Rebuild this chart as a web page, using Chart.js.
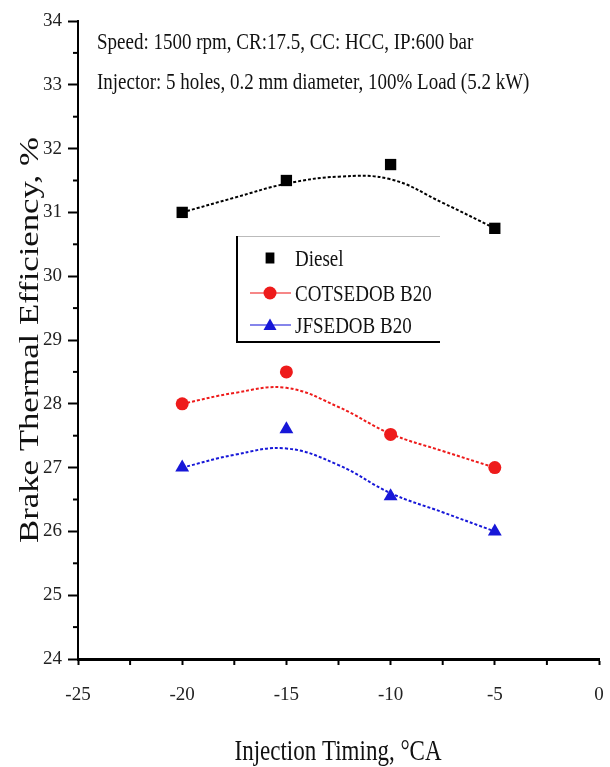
<!DOCTYPE html>
<html>
<head>
<meta charset="utf-8">
<script src="https://cdn.jsdelivr.net/npm/chart.js@4.4.0/dist/chart.umd.min.js"></script>
<style>
html, body { margin: 0; padding: 0; background: #fff; }
#wrap { width: 610px; height: 767px; }
</style>
</head>
<body>
<div id="wrap"><canvas id="bteChart" width="610" height="767"></canvas></div>
<script>
// measured points
const timings = [-20, -15, -10, -5];
const dieselBTE = [31.0, 31.5, 31.75, 30.75];
const cotsedobBTE = [28.0, 28.5, 27.52, 27.0];
const jfsedobBTE = [27.0, 27.6, 26.55, 26.0];

// dotted trend curves
const fitTimings = [-20, -17.5, -15, -12.5, -10, -7.5, -5];
const dieselFit = [31.0, 31.23, 31.45, 31.56, 31.52, 31.15, 30.75];
const cotsedobFit = [28.0, 28.17, 28.25, 27.95, 27.53, 27.26, 27.0];
const jfsedobFit = [27.0, 27.2, 27.3, 27.04, 26.6, 26.3, 26.0];

const xTicks = [-25, -20, -15, -10, -5, 0];
const yTicks = [24, 25, 26, 27, 28, 29, 30, 31, 32, 33, 34];

const seriesNames = ['Diesel', 'COTSEDOB B20', 'JFSEDOB B20'];
const infoLines = [
    'Speed: 1500 rpm, CR:17.5, CC: HCC, IP:600 bar',
    'Injector: 5 holes, 0.2 mm diameter, 100% Load (5.2 kW)'
];

const RED = '#ee1b1b';
const BLUE = '#1717d8';
const SERIF = '"Liberation Serif", "Times New Roman", serif';

function pairs(xs, ys) {
    return xs.map((x, i) => ({ x: x, y: ys[i] }));
}

// text a bit taller than wide, like the scanned figure
function stretchedText(ctx, text, x, y, px, stretch, align, angle) {
    ctx.save();
    ctx.translate(x, y);
    if (angle) ctx.rotate(angle);
    if (angle) ctx.scale(stretch, 1); else ctx.scale(1, stretch);
    ctx.font = px + 'px ' + SERIF;
    ctx.fillStyle = '#111';
    ctx.textAlign = align;
    ctx.textBaseline = 'alphabetic';
    ctx.fillText(text, 0, 0);
    ctx.restore();
}

function drawMarker(ctx, style, color, x, y, r) {
    ctx.save();
    ctx.fillStyle = color;
    ctx.beginPath();
    if (style === 'rect') {
        ctx.rect(x - r * 0.8, y - r, r * 1.6, r * 2);
    } else if (style === 'triangle') {
        ctx.moveTo(x, y - r);
        ctx.lineTo(x + r, y + r * 0.75);
        ctx.lineTo(x - r, y + r * 0.75);
        ctx.closePath();
    } else {
        ctx.arc(x, y, r, 0, Math.PI * 2);
    }
    ctx.fill();
    ctx.restore();
}

const extrasPlugin = {
    id: 'extras',
    afterDraw(chart) {
        const ctx = chart.ctx;
        const xs = chart.scales.x;
        const ys = chart.scales.y;

        // minor ticks halfway between major ones
        ctx.save();
        ctx.strokeStyle = '#000';
        ctx.lineWidth = 2;
        for (let i = 0; i < yTicks.length - 1; i++) {
            const py = ys.getPixelForValue((yTicks[i] + yTicks[i + 1]) / 2);
            ctx.beginPath();
            ctx.moveTo(xs.left - 5, py);
            ctx.lineTo(xs.left, py);
            ctx.stroke();
        }
        for (let i = 0; i < xTicks.length - 1; i++) {
            const px = xs.getPixelForValue((xTicks[i] + xTicks[i + 1]) / 2);
            ctx.beginPath();
            ctx.moveTo(px, ys.bottom);
            ctx.lineTo(px, ys.bottom + 6);
            ctx.stroke();
        }
        ctx.restore();

        // info text
        stretchedText(ctx, infoLines[0], 97, 49, 19, 1.25, 'left');
        stretchedText(ctx, infoLines[1], 97, 89, 19, 1.25, 'left');

        // axis titles
        stretchedText(ctx, 'Brake Thermal Efficiency, %', 38, 340, 26.5, 1.31, 'center', -Math.PI / 2);
        stretchedText(ctx, 'Injection Timing, \u00B0CA', 338, 760, 23, 1.3, 'center');

        // legend box
        ctx.save();
        ctx.lineWidth = 1;
        ctx.strokeStyle = '#bbb';
        ctx.beginPath();
        ctx.moveTo(237, 236.5);
        ctx.lineTo(440, 236.5);
        ctx.stroke();
        ctx.lineWidth = 2;
        ctx.strokeStyle = '#000';
        ctx.beginPath();
        ctx.moveTo(237, 236);
        ctx.lineTo(237, 342);
        ctx.lineTo(440, 342);
        ctx.stroke();
        ctx.restore();

        const rows = [258, 293, 325];
        for (let i = 0; i < 3; i++) {
            const ds = chart.data.datasets[i];
            const cy = rows[i];
            if (i > 0) {
                ctx.save();
                ctx.strokeStyle = ds.borderColor;
                ctx.globalAlpha = 0.7;
                ctx.lineWidth = 1.5;
                ctx.beginPath();
                ctx.moveTo(250, cy);
                ctx.lineTo(291, cy);
                ctx.stroke();
                ctx.restore();
            }
            drawMarker(ctx, ds.pointStyle, ds.backgroundColor, 270, cy, i === 0 ? 5.5 : 6.5);
            stretchedText(ctx, ds.label, 295, cy + 8, 19, 1.25, 'left');
        }
    }
};

const pointSet = (label, ys, style, color, radius) => ({
    label: label,
    data: pairs(timings, ys),
    showLine: false,
    pointStyle: style,
    pointRadius: radius,
    pointHoverRadius: radius,
    backgroundColor: color,
    borderColor: color,
    borderWidth: 0,
    order: 0
});

const fitSet = (label, ys, color) => ({
    label: label,
    data: pairs(fitTimings, ys),
    showLine: true,
    pointRadius: 0,
    borderColor: color,
    borderWidth: 2,
    borderDash: [3, 2],
    tension: 0.4,
    fill: false,
    order: 1
});

new Chart(document.getElementById('bteChart').getContext('2d'), {
    type: 'scatter',
    data: {
        datasets: [
            pointSet(seriesNames[0], dieselBTE, 'rect', '#000', 8),
            pointSet(seriesNames[1], cotsedobBTE, 'circle', RED, 6.5),
            pointSet(seriesNames[2], jfsedobBTE, 'triangle', BLUE, 8),
            fitSet(seriesNames[0] + ' fit', dieselFit, '#000'),
            fitSet(seriesNames[1] + ' fit', cotsedobFit, RED),
            fitSet(seriesNames[2] + ' fit', jfsedobFit, BLUE)
        ]
    },
    options: {
        responsive: false,
        devicePixelRatio: 1,
        animation: false,
        layout: { autoPadding: false, padding: { top: 21, right: 11, left: 0, bottom: 0 } },
        plugins: {
            legend: { display: false },
            tooltip: { enabled: false }
        },
        scales: {
            x: {
                type: 'linear',
                min: -25,
                max: 0,
                afterFit: scale => {
                    scale.height = 108;
                    scale.paddingLeft = 0;
                    scale.paddingRight = 0;
                },
                afterBuildTicks: scale => { scale.ticks = xTicks.map(v => ({ value: v })); },
                ticks: {
                    color: '#222',
                    padding: 19,
                    maxRotation: 0,
                    font: { family: SERIF, size: 19 }
                },
                grid: { drawOnChartArea: false, drawTicks: true, tickLength: 6, tickColor: '#000', tickWidth: 2 },
                border: { color: '#000', width: 3 }
            },
            y: {
                type: 'linear',
                min: 24,
                max: 34,
                afterFit: scale => {
                    scale.width = 78;
                    scale.paddingTop = 0;
                    scale.paddingBottom = 0;
                },
                afterBuildTicks: scale => { scale.ticks = yTicks.map(v => ({ value: v })); },
                ticks: {
                    color: '#222',
                    padding: 6,
                    font: { family: SERIF, size: 19 }
                },
                grid: { drawOnChartArea: false, drawTicks: true, tickLength: 10, tickColor: '#000', tickWidth: 2 },
                border: { color: '#000', width: 2 }
            }
        }
    },
    plugins: [extrasPlugin]
});
</script>
</body>
</html>
